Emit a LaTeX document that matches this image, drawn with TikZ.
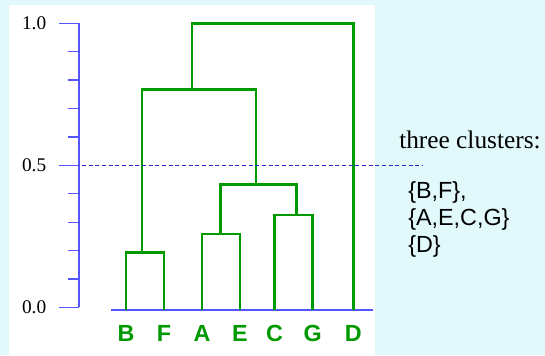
\documentclass[tikz,border=0pt]{standalone}
\usepackage{fontspec}
\setmainfont{Liberation Serif}
\setsansfont{Liberation Sans}
\usetikzlibrary{positioning}
\definecolor{Sky}{HTML}{E2F9FC}
\definecolor{Tree}{HTML}{009900}
\definecolor{Axis}{HTML}{5555FF}
\definecolor{Cut}{HTML}{2828C8}
\tikzset{
    link/.style={Tree, line width=1.9pt},
    axisline/.style={Axis, line width=1pt},
    leaf/.style={font=\sffamily\bfseries\fontsize{17.5}{20}\selectfont, text=Tree, anchor=base, inner sep=0pt},
    ticklabel/.style={font=\fontsize{14.5}{16}\selectfont, anchor=east, inner sep=0pt},
    settext/.style={font=\sffamily\fontsize{17.5}{20}\selectfont, anchor=base west, inner sep=0pt},
    cut/.style={Cut, line width=0.75pt, dash pattern=on 3pt off 2pt},
}

\begin{document}
\begin{tikzpicture}[x=0.75pt, y=0.75pt]
    % Backdrop
    \fill[Sky] (0,0) rectangle (545,355);
    \fill[white] (9,0) rectangle (375,350);
    \useasboundingbox (0,0) rectangle (545,355);

    % Height axis
    \draw[axisline] (79,47.6) -- (79,331.7);
    \foreach \k in {1,2,3,4,6,7,8,9}
        \draw[axisline] (68,47.6+28.41*\k) -- (79,47.6+28.41*\k);
    \foreach \k/\t in {0/0.0,5/0.5,10/1.0} {
        \draw[axisline] (59,47.6+28.41*\k) -- (79,47.6+28.41*\k);
        \node[ticklabel] (tick\k) at (46.5,47.6+28.41*\k) {\t};
    }

    % Leaves
    \draw[axisline] (111,45) -- (373,45);
    \foreach \n/\x in {B/126,F/164,A/202,E/240,C/274.5,G/312.7,D/353.3} {
        \coordinate (\n) at (\x,45);
        \node[leaf] (lbl\n) at (\x,13.3) {\n};
    }

    % Merge points
    \coordinate (BF) at (142,102.3);
    \coordinate (AE) at (220.7,121);
    \coordinate (CG) at (296.7,140);
    \coordinate (AECG) at (256,170.7);
    \coordinate (BFAECG) at (192,265.7);
    \coordinate (root) at (272,331.3);

    % Dendrogram
    \draw[link] (B) |- (BF) -| (F);
    \draw[link] (A) |- (AE) -| (E);
    \draw[link] (C) |- (CG) -| (G);
    \draw[link] (AE) |- (AECG) -| (CG);
    \draw[link] (BF) |- (BFAECG) -| (AECG);
    \draw[link] (BFAECG) |- (root) -| (D);

    % Cut at 0.5
    \coordinate (cutL) at (82,190);
    \coordinate (cutR) at (423,190);
    \draw[cut] (cutL) -- (cutR);

    % Resulting clusters
    \node[anchor=base west, inner sep=0pt, font=\fontsize{19}{22}\selectfont] (title) at (399,207) {three clusters:};
    \node[settext] (set1) at (408,157) {\{B,F\},};
    \node[settext] (set2) at (408,130) {\{A,E,C,G\}};
    \node[settext] (set3) at (408,103) {\{D\}};
\end{tikzpicture}
\end{document}
